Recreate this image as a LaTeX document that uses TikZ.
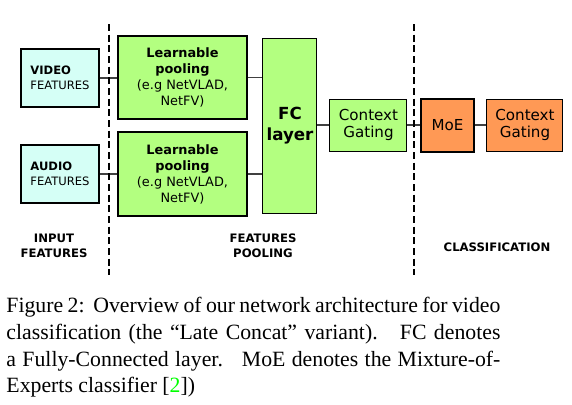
\documentclass[tikz,border=0pt]{standalone}
\usepackage{fontspec}
\setmainfont{Liberation Serif}
\newfontfamily\dejavu{DejaVu Sans}
\definecolor{featcyan}{HTML}{D5FFF6}
\definecolor{poolgreen}{HTML}{B3FF80}
\definecolor{clsorange}{HTML}{FF9955}
\definecolor{citegreen}{HTML}{00FF00}
\newcommand\pxu{0.45pt}
\newcommand\capline[1]{\makebox[222.3pt][s]{#1}}
\tikzset{
 blk/.style={draw,line width=0.45pt,inner sep=0pt,align=center},
 thickblk/.style={blk,line width=0.9pt},
 link/.style={line width=0.7pt,draw=black!75},
 sep/.style={line width=0.9pt,dash pattern=on 3.2pt off 1.6pt},
 stage/.style={font=\dejavu\fontsize{5.25}{6.6}\selectfont\bfseries,align=center}
}
\begin{document}
\begin{tikzpicture}[x=0.45pt,y=-0.45pt]
\useasboundingbox (0,0) rectangle (572,405);
% input features
\node[thickblk,fill=featcyan,minimum width=78*\pxu,minimum height=58*\pxu,align=left,font=\dejavu\fontsize{5.2}{6.9}\selectfont](video) at (60,78){\textbf{VIDEO}\\FEATURES};
\node[thickblk,fill=featcyan,minimum width=78*\pxu,minimum height=58*\pxu,align=left,font=\dejavu\fontsize{5.2}{6.9}\selectfont](audio) at (60,174){\textbf{AUDIO}\\FEATURES};
% pooling
\node[thickblk,fill=poolgreen,minimum width=129*\pxu,minimum height=83*\pxu,font=\dejavu\fontsize{5.8}{7.2}\selectfont](poolA) at (182.5,77.5){\textbf{Learnable}\\\textbf{pooling}\\(e.g NetVLAD,\\NetFV)};
\node[thickblk,fill=poolgreen,minimum width=129*\pxu,minimum height=84*\pxu,font=\dejavu\fontsize{5.8}{7.2}\selectfont](poolB) at (182.5,174){\textbf{Learnable}\\\textbf{pooling}\\(e.g NetVLAD,\\NetFV)};
\node[blk,fill=poolgreen,minimum width=54*\pxu,minimum height=175*\pxu,font=\dejavu\fontsize{7.5}{9.3}\selectfont\bfseries](fc) at (290,125.5){FC\\layer};
\node[blk,fill=poolgreen,minimum width=77*\pxu,minimum height=52*\pxu,font=\dejavu\fontsize{6.8}{7.5}\selectfont](gateA) at (368.5,125){Context\\Gating};
% classification
\node[thickblk,fill=clsorange,minimum width=53*\pxu,minimum height=53*\pxu,font=\dejavu\fontsize{6.8}{7.5}\selectfont](moe) at (447.5,125.5){MoE};
\node[blk,fill=clsorange,minimum width=76*\pxu,minimum height=52*\pxu,font=\dejavu\fontsize{6.8}{7.5}\selectfont](gateB) at (525,125){Context\\Gating};
\draw[link](video)--(video-|poolA.west);
\draw[link](audio)--(audio-|poolB.west);
\draw[link](poolA.east)--(poolA.east-|fc.west);
\draw[link](poolB.east)--(poolB.east-|fc.west);
\draw[link](fc.east|-gateA)--(gateA);
\draw[link](gateA)--(moe.west|-gateA);
\draw[link](moe.east|-gateB)--(gateB);
\draw[sep](109,24)--(109,275);
\draw[sep](414,24)--(414,275);
\node[stage](inlbl) at (54,246){INPUT\\FEATURES};
\node[stage](poollbl) at (263,246){FEATURES\\POOLING};
\node[stage](clslbl) at (497,247){CLASSIFICATION};
% caption
\node[anchor=north west,inner sep=0pt,align=left,font=\fontsize{9.8}{12}\selectfont](caption) at (6,297){\capline{Figure 2:\ \ Overview of our network architecture for video}\\\capline{classification (the ``Late Concat'' variant).\ \ \ FC denotes}\\\capline{a Fully-Connected layer.\ \ \ MoE denotes the Mixture-of-}\\Experts classifier [\textcolor{citegreen}{2}])};
\end{tikzpicture}
\end{document}
